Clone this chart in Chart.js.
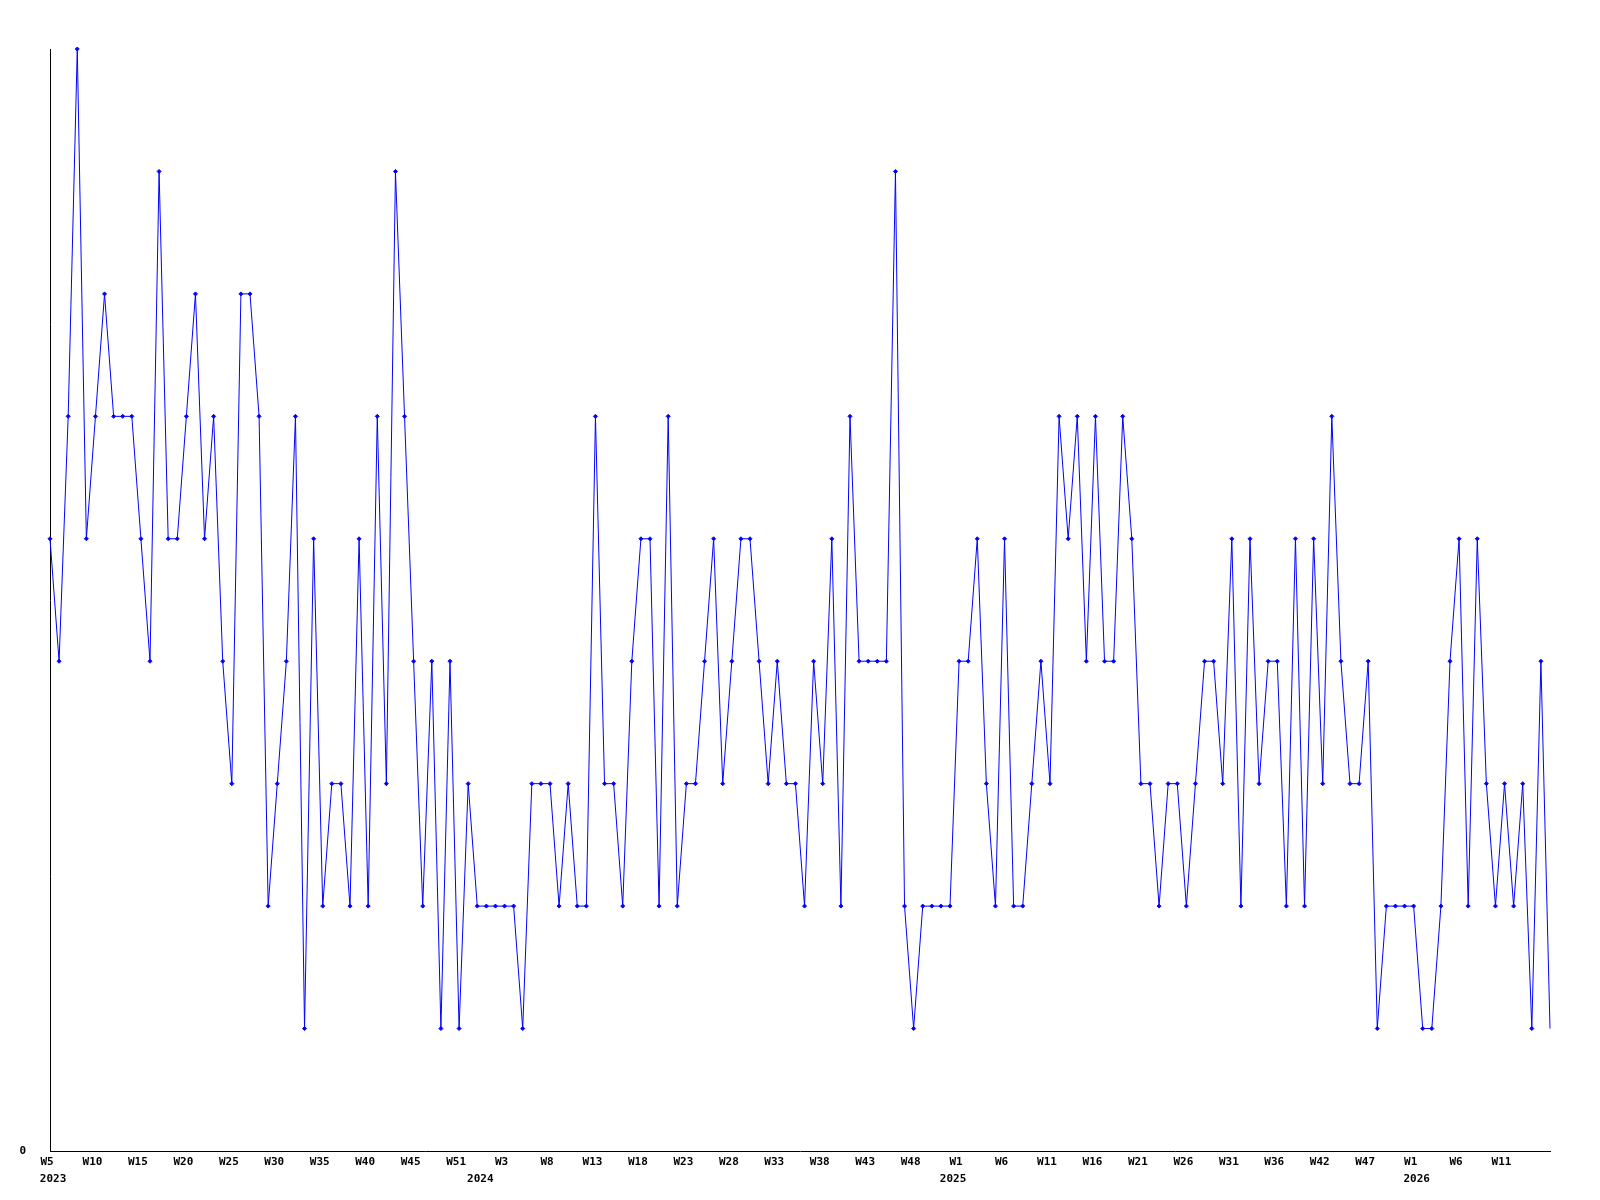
<!DOCTYPE html>
<html>
<head>
  <meta charset="utf-8">
  <title>Weekly counts</title>
  <script src="https://cdn.jsdelivr.net/npm/chart.js@4.4.3/dist/chart.umd.min.js"></script>
  <style>
    html, body { margin: 0; padding: 0; background: #fff; }
    #weeklyChart { display: block; }
  </style>
</head>
<body>
  <canvas id="weeklyChart" width="1600" height="1200"></canvas>

  <script>
    // weekly values, one array per year (2023 starts at W5)
    const values2023 = [5, 4, 6, 9, 5, 6, 7, 6, 6, 6, 5, 4, 8, 5, 5, 6, 7, 5, 6, 4, 3, 7, 7, 6, 2, 3, 4, 6,
                        1, 5, 2, 3, 3, 2, 5, 2, 6, 3, 8, 6, 4, 2, 4, 1, 4, 1, 3, 2];
    const values2024 = [2, 2, 2, 2, 1, 3, 3, 3, 2, 3, 2, 2, 6, 3, 3, 2, 4, 5, 5, 2, 6, 2, 3, 3, 4, 5,
                        3, 4, 5, 5, 4, 3, 4, 3, 3, 2, 4, 3, 5, 2, 6, 4, 4, 4, 4, 8, 2, 1, 2, 2, 2, 2];
    const values2025 = [4, 4, 5, 3, 2, 5, 2, 2, 3, 4, 3, 6, 5, 6, 4, 6, 4, 4, 6, 5, 3, 3, 2, 3, 3, 2,
                        3, 4, 4, 3, 5, 2, 5, 3, 4, 4, 2, 5, 2, 5, 3, 6, 4, 3, 3, 4, 1, 2, 2, 2, 2, 1];
    const values2026 = [1, 2, 4, 5, 2, 5, 3, 2, 3, 2, 3, 1, 4, 1];

    // axis text
    const tickEvery = 5;
    const weekTicks = ['W5', 'W10', 'W15', 'W20', 'W25', 'W30', 'W35', 'W40', 'W45', 'W51',
                       'W3', 'W8', 'W13', 'W18', 'W23', 'W28', 'W33', 'W38', 'W43', 'W48',
                       'W1', 'W6', 'W11', 'W16', 'W21', 'W26', 'W31', 'W36', 'W42', 'W47',
                       'W1', 'W6', 'W11'];
    const yearNames = ['2023', '2024', '2025', '2026'];
    const yearTickAt = [1, 48, 100, 151];
    const yMax = 9;

    const series = [values2023, values2024, values2025, values2026];
    const firstWeek = [5, 1, 1, 1];

    const categories = [];
    const values = [];
    series.forEach((arr, k) => {
      arr.forEach((v, i) => {
        categories.push(yearNames[k] + '-W' + (firstWeek[k] + i));
        values.push(v);
      });
    });

    const axisFont = { family: '"DejaVu Sans Mono", monospace', size: 11, weight: 'bold' };

    new Chart(document.getElementById('weeklyChart').getContext('2d'), {
      type: 'line',
      data: {
        labels: categories,
        datasets: [{
          data: values,
          borderColor: '#0000ff',
          backgroundColor: '#0000ff',
          borderWidth: 1,
          pointStyle: 'rectRot',
          // the last (current) week has no marker
          pointRadius: (ctx) => (ctx.dataIndex === values.length - 1 ? 0 : 2),
          pointBorderWidth: 1,
          tension: 0,
          fill: false,
          clip: false
        }]
      },
      options: {
        responsive: false,
        animation: false,
        layout: { padding: { top: 49, right: 50, left: 0, bottom: 0 } },
        plugins: {
          legend: { display: false },
          tooltip: { enabled: false }
        },
        scales: {
          x: {
            type: 'category',
            position: 'bottom',
            weight: 0,
            offset: false,
            grid: { display: false, drawTicks: false },
            border: { display: true, color: '#000', width: 1 },
            ticks: {
              autoSkip: false,
              maxRotation: 0,
              minRotation: 0,
              padding: 5,
              labelOffset: -3,
              color: '#000',
              font: axisFont,
              callback: (v, i) => (i % tickEvery === 0 ? weekTicks[i / tickEvery] || '' : '')
            },
            afterFit: (s) => { s.height = 20; }
          },
          x2: {
            type: 'category',
            position: 'bottom',
            weight: 1,
            offset: false,
            grid: { display: false, drawTicks: false },
            border: { display: false },
            ticks: {
              autoSkip: false,
              maxRotation: 0,
              minRotation: 0,
              padding: 2,
              labelOffset: -6,
              color: '#000',
              font: axisFont,
              callback: (v, i) => {
                const k = yearTickAt.indexOf(i);
                return k >= 0 ? yearNames[k] : '';
              }
            },
            afterFit: (s) => { s.height = 29; }
          },
          y: {
            min: 0,
            max: yMax,
            grid: { display: false, drawTicks: false },
            border: { display: true, color: '#000', width: 1 },
            ticks: {
              stepSize: 1,
              padding: 24,
              color: '#000',
              font: axisFont,
              callback: (v) => (v === 0 ? '0' : '')
            },
            afterFit: (s) => { s.width = 50; }
          }
        }
      }
    });
  </script>
</body>
</html>
